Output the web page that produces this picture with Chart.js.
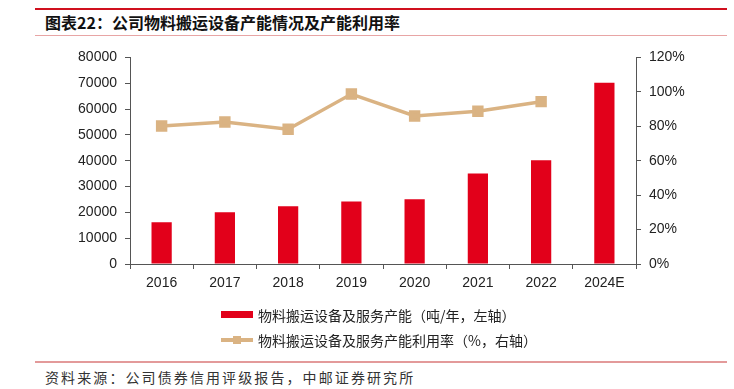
<!DOCTYPE html>
<html>
<head>
<meta charset="utf-8">
<script src="https://cdn.jsdelivr.net/npm/chart.js@4.4.0/dist/chart.umd.min.js"></script>
<style>
    body { margin: 0; background: #fff; }
    #wrap { position: relative; width: 734px; height: 389px; overflow: hidden; font-family: "Noto Sans CJK SC", sans-serif; }
    .topline { position: absolute; left: 35px; top: 8px; width: 692px; height: 2px; background: #d0101e; }
    .title { position: absolute; left: 45px; top: 11px; font-size: 16px; font-weight: bold; color: #111; line-height: 22px; }
    .subline { position: absolute; left: 35px; top: 35px; width: 692px; height: 1px; background: #e8a5a5; }
    .chartbox { position: absolute; left: 0; top: 41px; width: 734px; height: 254px; }
    #legend { position: absolute; left: 221px; top: 302px; font-size: 14px; color: #222; }
    #legend .item { display: flex; align-items: center; height: 25px; }
    #legend canvas { margin-right: 5px; }
    .srcline { position: absolute; left: 35px; top: 361px; width: 692px; height: 2px; background: #e39a9a; }
    .source { position: absolute; left: 45px; top: 367px; font-size: 14px; color: #333; line-height: 20px; letter-spacing: 2.1px; }
</style>
</head>
<body>
<div id="wrap">
    <div class="topline"></div>
    <div class="title">图表22：公司物料搬运设备产能情况及产能利用率</div>
    <div class="subline"></div>
    <div class="chartbox"><canvas id="myChart"></canvas></div>
    <div id="legend"></div>
    <div class="srcline"></div>
    <div class="source">资料来源：公司债券信用评级报告，中邮证券研究所</div>
</div>
<script>
// 데이터
const years = ["2016", "2017", "2018", "2019", "2020", "2021", "2022", "2024E"];
const capacity = [16200, 20000, 22400, 24200, 25100, 35000, 40200, 70200];
const utilization = [80.2, 82.5, 78.3, 98.7, 86.0, 88.7, 94.3, null];
const leftTicks = [0, 10000, 20000, 30000, 40000, 50000, 60000, 70000, 80000];
const rightTicks = [0, 20, 40, 60, 80, 100, 120];

const RED = "#e2001a";
const TAN = "#dab383";
const AXIS = "#555";
const tickFont = { family: "'Liberation Sans', Arial, sans-serif", size: 14 };

// 범례 아이콘
function barIcon() {
    const c = document.createElement("canvas");
    c.width = 32; c.height = 10;
    const g = c.getContext("2d");
    g.fillStyle = RED;
    g.fillRect(0, 1, 32, 7);
    return c;
}
function lineIcon() {
    const c = document.createElement("canvas");
    c.width = 32; c.height = 10;
    const g = c.getContext("2d");
    g.fillStyle = TAN;
    g.fillRect(0, 3, 32, 4);
    g.fillRect(12, 1, 8, 8);
    return c;
}

const chart = new Chart(document.getElementById("myChart").getContext("2d"), {
    data: {
        labels: years,
        datasets: [{
            type: "line",
            label: "物料搬运设备及服务产能利用率（%，右轴）",
            data: utilization,
            yAxisID: "y1",
            borderColor: TAN,
            backgroundColor: TAN,
            borderWidth: 3.5,
            pointStyle: "rect",
            pointRadius: 5.6,
            pointHoverRadius: 5.6,
            tension: 0,
            order: 0,
        }, {
            type: "bar",
            label: "物料搬运设备及服务产能（吨/年，左轴）",
            data: capacity,
            yAxisID: "y",
            backgroundColor: RED,
            categoryPercentage: 1,
            barPercentage: 0.32,
            order: 1,
        }]
    },
    options: {
        responsive: true,
        maintainAspectRatio: false,
        animation: false,
        layout: { padding: { top: 4, left: 0, right: 0, bottom: 0 } },
        plugins: { legend: { display: false }, tooltip: { enabled: false } },
        scales: {
            x: {
                grid: { drawOnChartArea: false, drawTicks: true, tickLength: 5, color: AXIS },
                border: { display: true, color: AXIS, width: 1 },
                ticks: { color: "#222", font: tickFont, padding: 6, maxRotation: 0 },
                afterFit: function(s) { s.height = 31; }
            },
            y: {
                position: "left",
                min: 0, max: 80000,
                afterBuildTicks: function(s) { s.ticks = leftTicks.map(v => ({ value: v })); },
                grid: { drawOnChartArea: false, drawTicks: true, tickLength: 5, color: AXIS },
                border: { display: true, color: AXIS, width: 1 },
                ticks: { color: "#222", font: tickFont, padding: 8, callback: v => String(v) },
                afterFit: function(s) { s.width = 130; }
            },
            y1: {
                position: "right",
                min: 0, max: 120,
                afterBuildTicks: function(s) { s.ticks = rightTicks.map(v => ({ value: v })); },
                grid: { drawOnChartArea: false, drawTicks: true, tickLength: 5, color: AXIS },
                border: { display: true, color: AXIS, width: 1 },
                ticks: { color: "#222", font: tickFont, padding: 8, callback: v => v + "%" },
                afterFit: function(s) { s.width = 98; }
            }
        }
    }
});

// HTML 범례 (막대 먼저)
const legend = document.getElementById("legend");
[chart.data.datasets[1], chart.data.datasets[0]].forEach(function(ds, i) {
    const item = document.createElement("div");
    item.className = "item";
    item.appendChild(i === 0 ? barIcon() : lineIcon());
    const span = document.createElement("span");
    span.textContent = ds.label;
    item.appendChild(span);
    legend.appendChild(item);
});
</script>
</body>
</html>
